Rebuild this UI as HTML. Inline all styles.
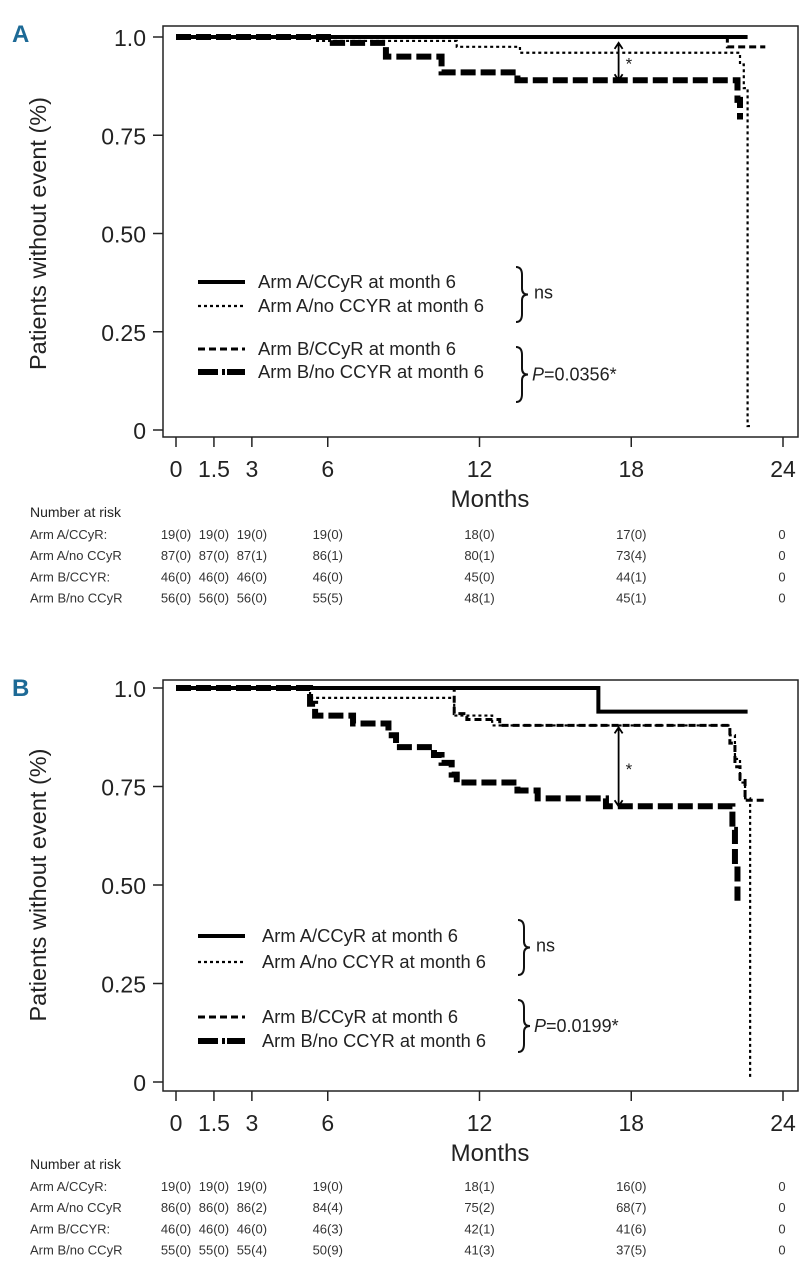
<!DOCTYPE html>
<html><head><meta charset="utf-8"><style>
body{margin:0;background:#fff;}
svg{display:block;font-family:"Liberation Sans",sans-serif;}
</style></head><body>
<svg id="c" width="812" height="1280" viewBox="0 0 812 1280" xmlns="http://www.w3.org/2000/svg"></svg>
<script>
const xTicks=[0,1.5,3,6,12,18,24];
const yTicks=[0,0.25,0.5,0.75,1.0];
const yTickLabels=["0","0.25","0.50","0.75","1.0"];
const seriesNames=["Arm A/CCyR at month 6","Arm A/no CCYR at month 6","Arm B/CCyR at month 6","Arm B/no CCYR at month 6"];
const riskRowLabelsA=["Arm A/CCyR:","Arm A/no CCyR","Arm B/CCYR:","Arm B/no CCyR"];
const riskA=[["19(0)","19(0)","19(0)","19(0)","18(0)","17(0)","0"],["87(0)","87(0)","87(1)","86(1)","80(1)","73(4)","0"],["46(0)","46(0)","46(0)","46(0)","45(0)","44(1)","0"],["56(0)","56(0)","56(0)","55(5)","48(1)","45(1)","0"]];
const riskB=[["19(0)","19(0)","19(0)","19(0)","18(1)","16(0)","0"],["86(0)","86(0)","86(2)","84(4)","75(2)","68(7)","0"],["46(0)","46(0)","46(0)","46(3)","42(1)","41(6)","0"],["55(0)","55(0)","55(4)","50(9)","41(3)","37(5)","0"]];
// step curves: [month, survival] pairs
const A_solid_t=[0,22.6], A_solid_s=[1.0,1.0];
const A_dot_t=[0,5.5,11.1,13.6,22.3,22.45,22.6,22.8], A_dot_s=[1.0,0.99,0.975,0.96,0.93,0.87,0.01,0.01];
const A_sd_t=[0,21.8,23.3], A_sd_s=[1.0,0.975,0.975];
const A_ld_t=[0,6.2,8.3,10.5,13.5,22.2,22.3], A_ld_s=[1.0,0.985,0.95,0.91,0.89,0.84,0.79];
const B_solid_t=[0,16.7,22.6], B_solid_s=[1.0,0.94,0.94];
const B_dot_t=[0,5.3,11.0,12.5,21.9,22.1,22.3,22.5,22.7,22.75], B_dot_s=[1.0,0.975,0.93,0.905,0.88,0.82,0.76,0.72,0.01,0.01];
const B_sd_t=[0,11.0,11.5,12.8,21.9,22.1,22.3,22.5,23.3], B_sd_s=[1.0,0.935,0.92,0.905,0.86,0.80,0.77,0.715,0.715];
const B_ld_t=[0,5.3,5.5,7.0,8.4,8.7,10.2,10.5,10.9,11.1,13.5,14.3,17.0,22.0,22.1,22.2], B_ld_s=[1.0,0.96,0.93,0.91,0.88,0.85,0.83,0.81,0.78,0.76,0.74,0.72,0.70,0.64,0.55,0.46];

const NS="http://www.w3.org/2000/svg";
const svg=document.getElementById('c');
function mk(tag,attrs,parent,text){const e=document.createElementNS(NS,tag);for(const k in attrs)e.setAttribute(k,attrs[k]);if(text!==undefined)e.textContent=text;(parent||svg).appendChild(e);return e;}
const X0=176,X1=783;
function xs(m){return X0+(X1-X0)*m/24;}
const styles=[{w:4,d:""},{w:2.2,d:"3,3"},{w:3,d:"7,4"},{w:6,d:"15,5"}];

function panel(P){
  const top=P.top, y1=P.y1, y0=P.y0;
  const ys=v=>y0+(y1-y0)*v;
  const g=mk('g',{});
  
  
  const lab=mk('text',{x:12,y:top+16,'font-size':24,'font-weight':'bold',fill:'#1d6a96'},g,P.letter);
  
  const fr=mk('rect',{x:163,y:top,width:635,height:P.bottom-top,fill:'none',stroke:'#222','stroke-width':1.5},g);
  
  yTicks.forEach((v,i)=>{
    const t=mk('line',{x1:153,x2:163,y1:ys(v),y2:ys(v),stroke:'#222','stroke-width':1.5},g);
    
    const tl=mk('text',{x:146,y:ys(v)+9,'font-size':23,'text-anchor':'end',fill:'#222'},g,yTickLabels[i]);
    
  });
  xTicks.forEach(m=>{
    const t=mk('line',{x1:xs(m),x2:xs(m),y1:P.bottom,y2:P.bottom+10,stroke:'#222','stroke-width':1.5},g);
    
    const tl=mk('text',{x:xs(m),y:P.bottom+40,'font-size':23,'text-anchor':'middle',fill:'#222'},g,String(m));
    
  });
  const xt=mk('text',{x:490,y:P.bottom+70,'font-size':24,'text-anchor':'middle',fill:'#222'},g,'Months');
  
  const yc=(y1+y0)/2;
  const yt=mk('text',{x:46,y:yc,'font-size':23.5,'text-anchor':'middle',fill:'#222',transform:`rotate(-90 46 ${yc})`},g,'Patients without event (%)');
  
  P.curves.forEach((c,i)=>{
    let d=`M${xs(c[0][0])},${ys(c[1][0])}`;
    for(let k=1;k<c[0].length;k++){d+=` H${xs(c[0][k])} V${ys(c[1][k])}`;}
    const p=mk('path',{d:d,fill:'none',stroke:'#000','stroke-width':styles[i].w,'stroke-dasharray':styles[i].d},g);
    
    
  });
  const ax=xs(17.5);
  const ar=mk('path',{d:`M${ax},${ys(P.arrow[0])} V${ys(P.arrow[1])} M${ax-4},${ys(P.arrow[0])+6} L${ax},${ys(P.arrow[0])} L${ax+4},${ys(P.arrow[0])+6} M${ax-4},${ys(P.arrow[1])-6} L${ax},${ys(P.arrow[1])} L${ax+4},${ys(P.arrow[1])-6}`,fill:'none',stroke:'#000','stroke-width':1.8},g);
  
  const st=mk('text',{x:ax+7,y:(ys(P.arrow[0])+ys(P.arrow[1]))/2+8,'font-size':17,fill:'#222'},g,'*');
  
  P.legY.forEach((ly,i)=>{
    const ls=mk('line',{x1:198,x2:245,y1:ly,y2:ly,stroke:'#000','stroke-width':styles[i].w,'stroke-dasharray':i==3?"20,4,3,2":(i==2?"7,4":styles[i].d)},g);
    
    const lt=mk('text',{x:P.legX,y:ly+6,'font-size':18,fill:'#222',textLength:P.legW[i],lengthAdjust:'spacingAndGlyphs'},g,seriesNames[i]);
    
  });
  P.braces.forEach((b,i)=>{
    const [a,z]=b;const m=(a+z)/2;const bx=P.braceX;
    const br=mk('path',{d:`M${bx},${a} Q${bx+6},${a} ${bx+6},${a+8} V${m-6} Q${bx+6},${m} ${bx+12},${m} Q${bx+6},${m} ${bx+6},${m+6} V${z-8} Q${bx+6},${z} ${bx},${z}`,fill:'none',stroke:'#111','stroke-width':2},g);
    
  });
  const ns=mk('text',{x:P.braceX+18,y:(P.braces[0][0]+P.braces[0][1])/2+4,'font-size':18,fill:'#222'},g,'ns');
  
  const pv=mk('text',{x:P.braceX+16,y:(P.braces[1][0]+P.braces[1][1])/2+6,'font-size':18,fill:'#222'},g);
  
  mk('tspan',{'font-style':'italic'},pv,'P');mk('tspan',{},pv,'='+P.p+'*');
  const rt=mk('text',{x:30,y:P.riskY,'font-size':14,fill:'#222'},g,'Number at risk');
  
  P.risk.forEach((row,r)=>{
    const ry=P.riskY+22+r*21.2;
    const rl=mk('text',{x:30,y:ry,'font-size':13,fill:'#333'},g,riskRowLabelsA[r]);
    
    row.forEach((v,k)=>{
      const cx=xs(xTicks[k])+(k==6?-1:0);
      const ct=mk('text',{x:cx,y:ry,'font-size':13,'text-anchor':'middle',fill:'#333'},g,v);
      
    });
  });
}
panel({name:'panel-a',letter:'A',top:26,bottom:437,y1:37,y0:430,
  curves:[[A_solid_t,A_solid_s],[A_dot_t,A_dot_s],[A_sd_t,A_sd_s],[A_ld_t,A_ld_s]],
  arrow:[0.985,0.89],legY:[282,306,349,372],legX:258,legW:[198,226,198,226],braceX:516,braces:[[267,322],[347,402]],p:'0.0356',
  riskY:517,risk:riskA});
panel({name:'panel-b',letter:'B',top:680,bottom:1091,y1:688,y0:1082,
  curves:[[B_solid_t,B_solid_s],[B_dot_t,B_dot_s],[B_sd_t,B_sd_s],[B_ld_t,B_ld_s]],
  arrow:[0.90,0.70],legY:[936,962,1017,1041],legX:262,legW:[196,224,196,224],braceX:518,braces:[[920,975],[1000,1052]],p:'0.0199',
  riskY:1169,risk:riskB});
</script>
</body></html>
